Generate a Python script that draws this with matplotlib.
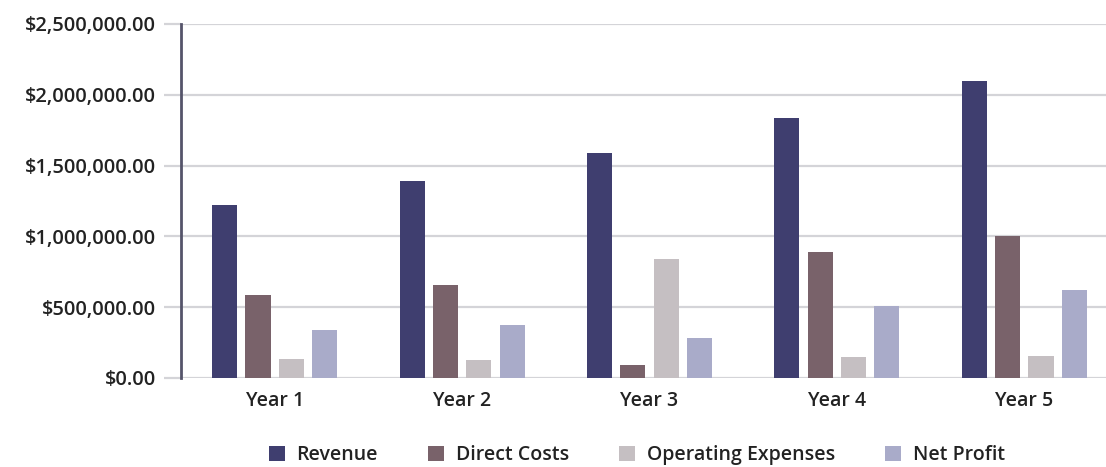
import numpy as np
import matplotlib
matplotlib.use("Agg")
import matplotlib.pyplot as plt
from matplotlib.ticker import FuncFormatter

plt.rcParams["font.family"] = ["Open Sans", "DejaVu Sans"]
plt.rcParams["font.weight"] = "semibold"

# data
years = ["Year 1", "Year 2", "Year 3", "Year 4", "Year 5"]
revenue = [1220000, 1390000, 1587000, 1836000, 2100000]
direct_costs = [586000, 657000, 92000, 888000, 1005000]
operating_expenses = [132000, 127000, 840000, 146000, 155000]
net_profit = [339000, 374000, 280000, 508000, 621000]

series = [
    ("Revenue", revenue, "#3f3e6f"),
    ("Direct Costs", direct_costs, "#79626a"),
    ("Operating Expenses", operating_expenses, "#c5bfc2"),
    ("Net Profit", net_profit, "#a9abc9"),
]

W, H = 1106, 467
fig = plt.figure(figsize=(W / 100, H / 100), dpi=100)
ax = fig.add_axes([181 / W, (H - 378) / H, 937 / W, 354 / H])

x = np.arange(len(years))
step = 0.178
width = 0.134
for i, (name, vals, col) in enumerate(series):
    ax.bar(x + (i - 1.5) * step, vals, width, color=col, label=name, zorder=3)

ax.set_xlim(-0.5, len(years) - 0.5)
ax.set_ylim(0, 2500000)
ax.set_yticks(np.arange(0, 2500001, 500000))
ax.yaxis.set_major_formatter(FuncFormatter(lambda v, p: f"${v:,.2f}"))
ax.set_xticks(x)
ax.set_xticklabels(years)

ax.grid(axis="y", color="#d4d4d8", linewidth=1.6, zorder=0)
for s in ["top", "right", "bottom"]:
    ax.spines[s].set_visible(False)
ax.spines["left"].set_color("#55546a")
ax.spines["left"].set_linewidth(2)
ax.spines["left"].set_zorder(4)

ax.tick_params(axis="y", length=12, width=1.6, color="#d4d4d8", labelsize=14.5,
               labelcolor="#222222", pad=6)
ax.tick_params(axis="x", length=0, labelsize=14, labelcolor="#222222", pad=9)

fig.legend(loc="center", bbox_to_anchor=(637 / W, 12 / H), ncol=4, frameon=False,
           fontsize=14, handlelength=0.8, handleheight=0.8, columnspacing=2.6,
           handletextpad=0.6, labelcolor="#222222")

plt.savefig("out.png", dpi=100)
plt.close()
